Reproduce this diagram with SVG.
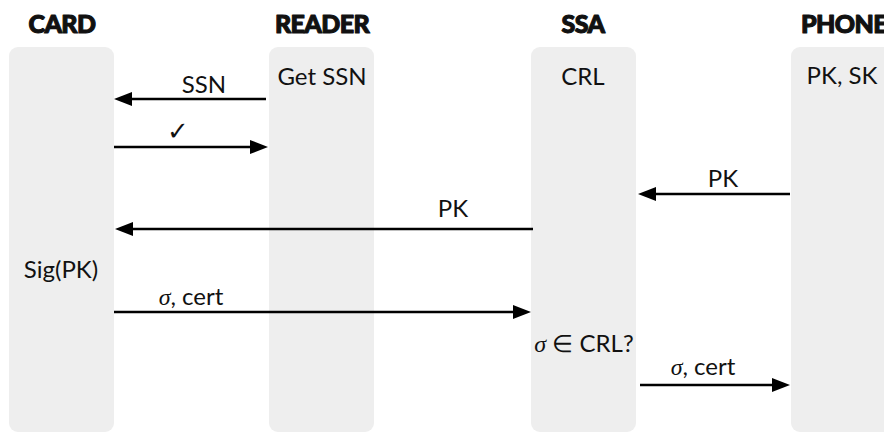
<svg xmlns="http://www.w3.org/2000/svg" width="884" height="432" viewBox="0 0 884 432">
  <style>
    .lane { fill: #eeeeee; }
    .head { font-family: Lato, "Liberation Sans", sans-serif; font-weight: 900; font-size: 25px; fill: #111; stroke: #111; stroke-width: 1.1; stroke-linejoin: round; letter-spacing: -0.6px; text-anchor: middle; }
    .lbl { font-family: Lato, "Liberation Sans", sans-serif; font-size: 24px; fill: #111; text-anchor: middle; }
    .math { font-family: "Liberation Serif", "DejaVu Serif", serif; font-style: italic; }
    .tick { font-family: "DejaVu Sans", sans-serif; font-size: 26px; }
    .conn { stroke: #000; stroke-width: 2.7; fill: none; marker-end: url(#arrow); }
  </style>
  <defs>
    <marker id="arrow" markerUnits="userSpaceOnUse" markerWidth="20" markerHeight="16" refX="0" refY="7" orient="auto">
      <path d="M0,0 L18,7 L0,14 z" fill="#000"/>
    </marker>
  </defs>

  <rect width="884" height="432" fill="#fff"/>

  <g id="card">
    <rect class="lane" x="9" y="47" width="105" height="385" rx="9"/>
    <text class="head" x="62" y="33">CARD</text>
    <text class="lbl" x="61" y="278">Sig(PK)</text>
  </g>

  <g id="reader">
    <rect class="lane" x="269" y="47" width="105" height="385" rx="9"/>
    <text class="head" x="322" y="33">READER</text>
    <text class="lbl" x="322" y="85">Get SSN</text>
  </g>

  <g id="ssa">
    <rect class="lane" x="531" y="47" width="105" height="385" rx="9"/>
    <text class="head" x="583" y="33">SSA</text>
    <text class="lbl" x="583" y="85">CRL</text>
    <text class="lbl" x="584" y="352"><tspan class="math">σ</tspan> ∈ CRL?</text>
  </g>

  <g id="phone">
    <rect class="lane" x="791" y="47" width="105" height="385" rx="9"/>
    <text class="head" x="844" y="33">PHONE</text>
    <text class="lbl" x="842" y="84">PK, SK</text>
  </g>

  <g id="connectors">
    <line class="conn" x1="266" y1="99" x2="132" y2="99"/>
    <text class="lbl" x="204" y="93">SSN</text>

    <line class="conn" x1="114" y1="147" x2="250" y2="147"/>
    <text class="lbl tick" x="178" y="140">✓</text>

    <line class="conn" x1="790" y1="194" x2="656" y2="194"/>
    <text class="lbl" x="723" y="187">PK</text>

    <line class="conn" x1="533" y1="229" x2="133" y2="229"/>
    <text class="lbl" x="453" y="217">PK</text>

    <line class="conn" x1="114" y1="312" x2="513" y2="312"/>
    <text class="lbl" x="191" y="305"><tspan class="math">σ</tspan>, cert</text>

    <line class="conn" x1="640" y1="385" x2="772" y2="385"/>
    <text class="lbl" x="703" y="375"><tspan class="math">σ</tspan>, cert</text>
  </g>
</svg>
